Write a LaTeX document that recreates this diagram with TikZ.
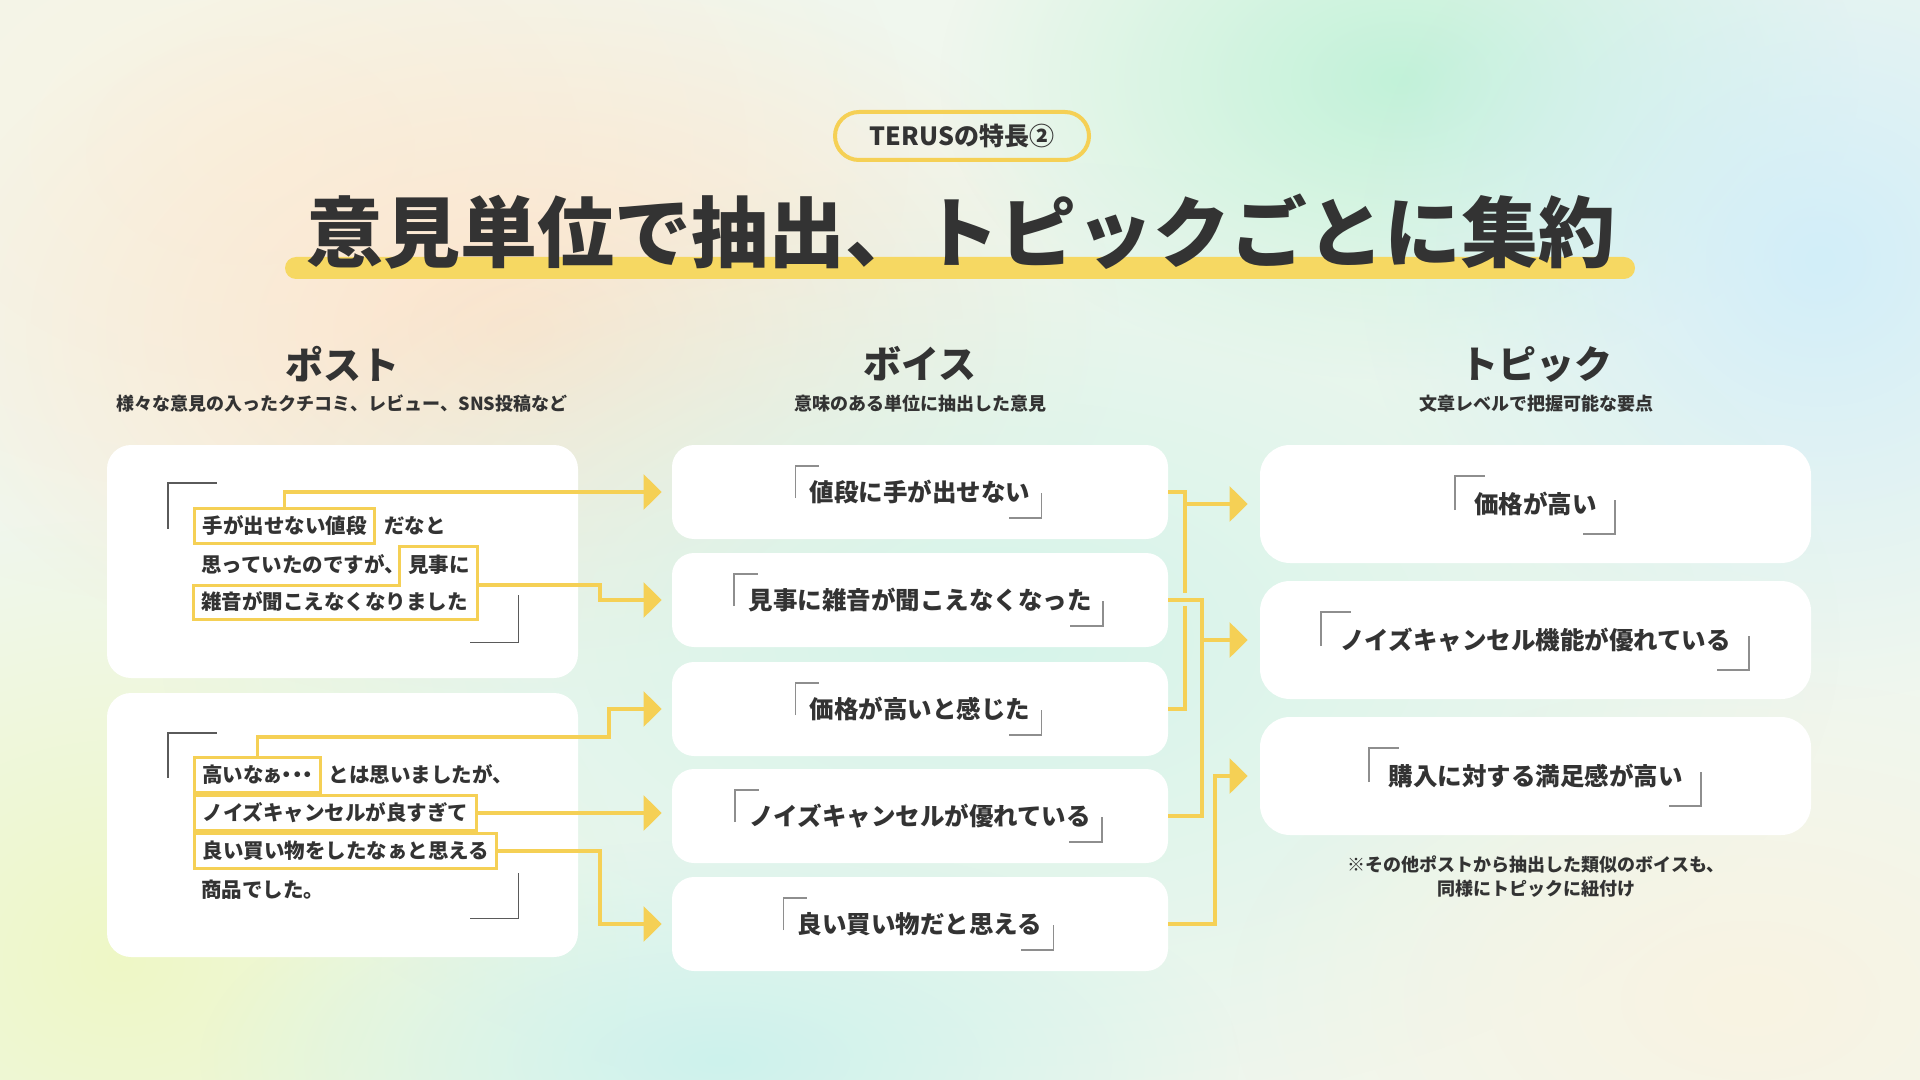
\documentclass[tikz,border=0pt]{standalone}
\usepackage{fontspec}
\setmainfont{Noto Sans CJK JP}
\usetikzlibrary{arrows.meta,fadings,calc}
\definecolor{ink}{HTML}{333333}
\definecolor{ylw}{HTML}{F5D055}
\definecolor{ylwbar}{HTML}{F6D862}
\definecolor{brgray}{HTML}{8E8E8E}
\definecolor{brdark}{HTML}{5A5A5A}
\definecolor{bgbase}{HTML}{F0F7EE}
\definecolor{gpeach}{HTML}{FDE4CC}
\definecolor{gcream}{HTML}{F9F3E2}
\definecolor{gyg}{HTML}{EEF8C6}
\definecolor{gmint}{HTML}{C2F2D9}
\definecolor{gcyan}{HTML}{D2EEF9}
\definecolor{gmint2}{HTML}{D6F4EA}
\definecolor{gcyan2}{HTML}{CDF2EC}
\tikzfading[name=softglow, inner color=transparent!0, outer color=transparent!100]
\newcommand\vbrk[1]{%
  \draw[brk] ($(#1.west)+(-14,6)$) -- ++(0,-32) -- ++(24,0);
  \draw[brk] ($(#1.east)+(11,1)$) -- ++(0,25) -- ++(-33,0);}
\newcommand\tbrk[1]{%
  \draw[brk] ($(#1.west)+(-19,6)$) -- ++(0,-34) -- ++(30,0);
  \draw[brk] ($(#1.east)+(18,-4)$) -- ++(0,34) -- ++(-32,0);}
\begin{document}
\begin{tikzpicture}[x=0.5pt,y=-0.5pt,
  every node/.style={text=ink},
  pbox/.style={fill=white, rounded corners=12pt, minimum width=235.5pt, inner sep=0pt},
  vbox/.style={fill=white, rounded corners=11pt, minimum width=248pt, minimum height=47pt, inner sep=0pt},
  tbox/.style={fill=white, rounded corners=15pt, minimum width=275.5pt, minimum height=59pt, inner sep=0pt},
  ptx/.style={inner sep=0pt, font=\bfseries\fontsize{10.25}{12}\selectfont, text height=9pt, text depth=1.25pt},
  hl/.style={ptx, draw=ylw, line width=1.5pt, inner xsep=4pt, inner ysep=3.4pt},
  hlline/.style={draw=ylw, line width=1.5pt},
  vtx/.style={inner sep=0pt, font=\bfseries\fontsize{12.25}{14}\selectfont, text height=10.8pt, text depth=1.45pt},
  ttx/.style={inner sep=0pt, font=\bfseries\fontsize{12.25}{14}\selectfont, text height=10.8pt, text depth=1.45pt},
  head/.style={inner sep=0pt, font=\bfseries\fontsize{19}{22}\selectfont},
  sub/.style={inner sep=0pt, font=\bfseries\fontsize{9}{11}\selectfont},
  brk/.style={draw=brgray, line width=0.8pt},
  pbrk/.style={draw=brdark, line width=0.9pt},
  conn/.style={draw=ylw, line width=1.6pt, -{Triangle[length=9pt,width=17.5pt]}},
  ln/.style={draw=ylw, line width=1.6pt}]
\useasboundingbox (0,0) rectangle (1920,1080);
% background
\begin{scope}
\clip (0,0) rectangle (1920,1080);
\fill[bgbase] (0,0) rectangle (1920,1080);
\fill[gcream, path fading=softglow] (250,150) ellipse (330pt and 230pt);
\fill[gpeach, path fading=softglow] (520,330) ellipse (300pt and 190pt);
\fill[gyg, path fading=softglow] (120,960) ellipse (260pt and 220pt);
\fill[gmint, path fading=softglow] (1400,80) ellipse (230pt and 150pt);
\fill[gcyan, path fading=softglow] (1820,260) ellipse (230pt and 220pt);
\fill[gmint2, path fading=softglow] (1000,640) ellipse (420pt and 240pt);
\fill[gcyan2, path fading=softglow] (720,1060) ellipse (260pt and 110pt);
\fill[gcream, path fading=softglow] (1750,1000) ellipse (260pt and 160pt);
\end{scope}
% header
\node[draw=ylw, line width=2pt, rounded corners=12pt, minimum width=127pt, minimum height=24pt, inner sep=0pt] (pill) at (962,136) {};
\node[inner sep=0pt, font=\bfseries\fontsize{12.5}{14}\selectfont] (pilltx) at (pill.center) {TERUSの特長②};
\fill[ylwbar, rounded corners=5.5pt] (285,257) rectangle (1635,279);
\node[inner sep=0pt, font=\bfseries\fontsize{38.5}{42}\selectfont, text height=33.9pt, text depth=4.6pt] (title) at (961,232) {意見単位で抽出、トピックごとに集約};
% column heads
\node[head] (h1) at (342,364) {ポスト};
\node[sub] (s1) at (342,404) {様々な意見の入ったクチコミ、レビュー、SNS投稿など};
\node[head] (h2) at (920,364) {ボイス};
\node[sub] (s2) at (920,404) {意味のある単位に抽出した意見};
\node[head] (h3) at (1536,364) {トピック};
\node[sub] (s3) at (1536,404) {文章レベルで把握可能な要点};
% post boxes
\node[pbox, minimum height=116.5pt] (pb1) at (342.5,561.5) {};
\node[pbox, minimum height=132pt] (pb2) at (342.5,825) {};
% voice boxes
\node[vbox] (v1) at (920,492) {};
\node[vbox] (v2) at (920,600) {};
\node[vbox] (v3) at (920,709) {};
\node[vbox] (v4) at (920,816) {};
\node[vbox] (v5) at (920,924) {};
% topic boxes
\node[tbox] (t1) at (1535.5,504) {};
\node[tbox] (t2) at (1535.5,640) {};
\node[tbox] (t3) at (1535.5,776) {};
% post 1 content
\draw[pbrk] ($(pb1.north west)+(61,84)$) -- ++(0,-46) -- ++(49,0);
\draw[pbrk] ($(pb1.south east)+(-60,-83)$) -- ++(0,47) -- ++(-48,0);
\node[hl, anchor=west] (p1a) at (193,526) {手が出せない値段};
\node[ptx, anchor=west] (p1b) at ($(p1a.east)+(8,0)$) {だなと};
\node[ptx, anchor=west] (p1c) at (201,565) {思っていたのですが、};
\node[ptx, anchor=west] (p1d) at (408,565) {見事に};
\node[ptx, anchor=west] (p1e) at (201,602) {雑音が聞こえなくなりました};
\draw[hlline] (193,585) -- (399,585) -- (399,546) -- (477,546) -- (477,619) -- (193,619) -- cycle;
\coordinate (p1k) at (477,585);
% post 2 content
\draw[pbrk] ($(pb2.north west)+(61,85)$) -- ++(0,-45) -- ++(49,0);
\draw[pbrk] ($(pb2.south east)+(-60,-84)$) -- ++(0,45) -- ++(-48,0);
\node[hl, anchor=west, font=\bfseries\fontsize{10.25}{12}\selectfont\addfontfeatures{RawFeature=+palt}] (p2a) at (193,775) {高いなぁ・・・};
\node[ptx, anchor=west] (p2b) at ($(p2a.east)+(6,0)$) {とは思いましたが、};
\node[hl, anchor=west] (p2c) at (193,813) {ノイズキャンセルが良すぎて};
\node[hl, anchor=west] (p2d) at (193,851) {良い買い物をしたなぁと思える};
\node[ptx, anchor=west] (p2e) at (201,890) {商品でした。};
% voice texts
\node[vtx] (v1t) at (v1.center) {値段に手が出せない};
\node[vtx] (v2t) at (v2.center) {見事に雑音が聞こえなくなった};
\node[vtx] (v3t) at (v3.center) {価格が高いと感じた};
\node[vtx] (v4t) at (v4.center) {ノイズキャンセルが優れている};
\node[vtx] (v5t) at (v5.center) {良い買い物だと思える};
\vbrk{v1t}\vbrk{v2t}\vbrk{v3t}\vbrk{v4t}\vbrk{v5t}
% topic texts
\node[ttx] (t1t) at (t1.center) {価格が高い};
\node[ttx] (t2t) at (t2.center) {ノイズキャンセル機能が優れている};
\node[ttx] (t3t) at (t3.center) {購入に対する満足感が高い};
\tbrk{t1t}\tbrk{t2t}\tbrk{t3t}
\node[inner sep=0pt, align=center, font=\bfseries\fontsize{9}{12}\selectfont] (note) at (1536,877) {※その他ポストから抽出した類似のボイスも、\\同様にトピックに紐付け};
% connectors post -> voice
\coordinate (k1) at (609,737);
\coordinate (k2) at (600,0);
\draw[conn] (p1a.north) |- ([xshift=-5pt]v1.west);
\draw[conn] (p1k) -- (k2 |- p1k) |- ([xshift=-5pt]v2.west);
\draw[conn] (p2a.north) |- (k1) |- ([xshift=-5pt]v3.west);
\draw[conn] (p2c.east) -- ([xshift=-5pt]v4.west |- p2c.east);
\draw[conn] (p2d.east) -- (k2 |- p2d.east) |- ([xshift=-5pt]v5.west);
% connectors voice -> topic
\coordinate (c1) at (1185,0);
\coordinate (c2) at (1202,0);
\coordinate (c3) at (1215,0);
\draw[ln] (v1.east) -| ($(c1 |- v2.east)+(0,-7)$);
\draw[ln] ($(c1 |- v2.east)+(0,6)$) |- (v3.east);
\draw[conn] (c1 |- t1.west) -- ([xshift=-6pt]t1.west);
\draw[ln] (v2.east) -| (c2 |- v4.east) -- (v4.east);
\draw[conn] (c2 |- t2.west) -- ([xshift=-6pt]t2.west);
\draw[conn] (v5.east) -| (c3 |- t3.west) -- ([xshift=-6pt]t3.west);
\end{tikzpicture}
\end{document}
